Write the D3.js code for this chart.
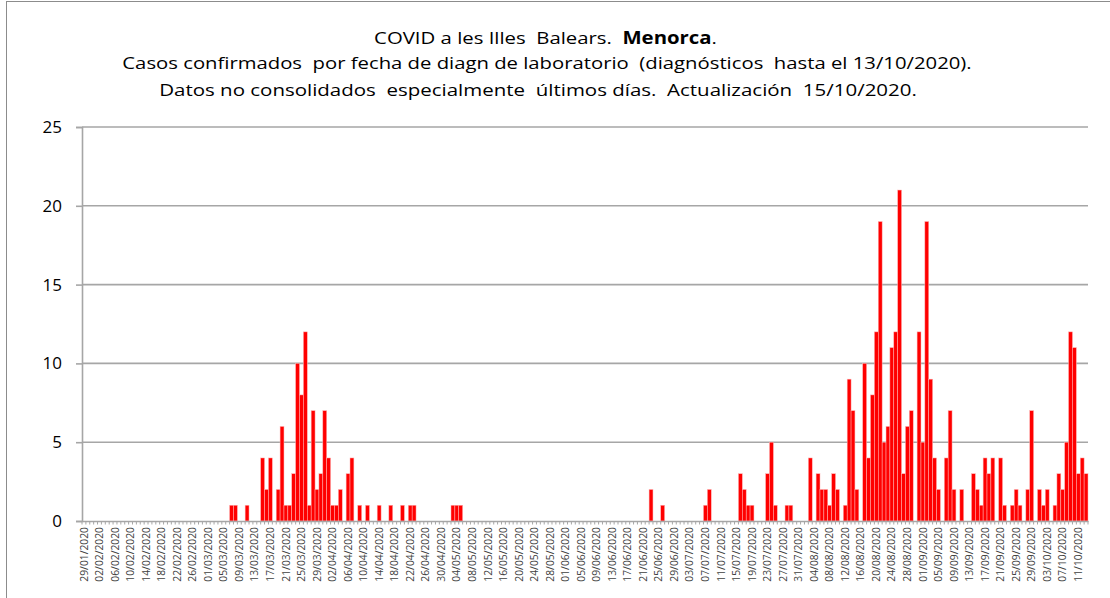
<!DOCTYPE html>
<html>
<head>
<meta charset="utf-8">
<script src="https://cdn.jsdelivr.net/npm/d3@7"></script>
<style>
  body { margin: 0; background: #fff; }
  svg { display: block; font-family: "Open Sans", sans-serif; }
</style>
</head>
<body>
<div id="chart"></div>
<script>
/* Chart data */
var firstDay = new Date(2020, 0, 29);
var lastDay = new Date(2020, 9, 13);

// confirmed cases per day, 29/01/2020 .. 13/10/2020
var cases = [
  0,0,0,0,0,0,0,0,0,0,
  0,0,0,0,0,0,0,0,0,0,
  0,0,0,0,0,0,0,0,0,0,
  0,0,0,0,0,0,0,0,1,1,
  0,0,1,0,0,0,4,2,4,0,
  2,6,1,1,3,10,8,12,1,7,
  2,3,7,4,1,1,2,0,3,4,
  0,1,0,1,0,0,1,0,0,1,
  0,0,1,0,1,1,0,0,0,0,
  0,0,0,0,0,1,1,1,0,0,
  0,0,0,0,0,0,0,0,0,0,
  0,0,0,0,0,0,0,0,0,0,
  0,0,0,0,0,0,0,0,0,0,
  0,0,0,0,0,0,0,0,0,0,
  0,0,0,0,0,0,2,0,0,1,
  0,0,0,0,0,0,0,0,0,0,
  1,2,0,0,0,0,0,0,0,3,
  2,1,1,0,0,0,3,5,1,0,
  0,1,1,0,0,0,0,4,0,3,
  2,2,1,3,2,0,1,9,7,2,
  0,10,4,8,12,19,5,6,11,12,
  21,3,6,7,0,12,5,19,9,4,
  2,0,4,7,2,0,2,0,0,3,
  2,1,4,3,4,0,4,1,0,1,
  2,1,0,2,7,0,2,1,2,0,
  1,3,2,5,12,11,3,4,3
];

var yTicks = [0, 5, 10, 15, 20, 25];
var labelEvery = 4;

var titleLines = [
  [{t: "COVID a les Illes  Balears.  ", b: false}, {t: "Menorca", b: true}, {t: ".", b: false}],
  [{t: "Casos confirmados  por fecha de diagn de laboratorio  (diagnósticos  hasta el 13/10/2020).", b: false}],
  [{t: "Datos no consolidados  especialmente  últimos días.  Actualización  15/10/2020.", b: false}]
];

/* Layout */
var W = 1110, H = 598;
var M = {left: 82, right: 1088, top: 127, bottom: 521};
var titlePos = [ {cx: 545.5, y: 44, w: 343}, {cx: 547, y: 69, w: 850}, {cx: 538, y: 96, w: 758} ];

var days = d3.timeDay.range(firstDay, d3.timeDay.offset(lastDay, 1));
var fmt = d3.timeFormat("%d/%m/%Y");

var svg = d3.select("#chart").append("svg")
  .attr("width", W).attr("height", H);

// outer frame (only top and left edges are visible)
svg.append("line").attr("x1", 6.5).attr("x2", 6.5).attr("y1", 1).attr("y2", H)
  .attr("stroke", "#8c8c8c").attr("stroke-width", 1);
svg.append("line").attr("x1", 6.5).attr("x2", W).attr("y1", 1.5).attr("y2", 1.5)
  .attr("stroke", "#8c8c8c").attr("stroke-width", 1);

var x = d3.scaleBand().domain(days).range([M.left, M.right]).paddingInner(0).paddingOuter(0);
var y = d3.scaleLinear().domain([0, 25]).range([M.bottom, M.top]);

// gridlines
svg.append("g").selectAll("line").data(yTicks.filter(function(d) { return d > 0; }))
  .join("line")
  .attr("x1", M.left).attr("x2", M.right)
  .attr("y1", function(d) { return y(d); }).attr("y2", function(d) { return y(d); })
  .attr("stroke", "#a6a6a6").attr("stroke-width", 1.6);

// bars
svg.append("g").selectAll("rect").data(cases)
  .join("rect")
  .attr("x", function(d, i) { return x(days[i]); })
  .attr("width", x.bandwidth())
  .attr("y", function(d) { return y(d); })
  .attr("height", function(d) { return y(0) - y(d); })
  .attr("fill", "#ff0000")
  .attr("stroke", "#ffb4b4")
  .attr("stroke-width", function(d) { return d > 0 ? 0.5 : 0; });

// y axis
var yAxis = d3.axisLeft(y).tickValues(yTicks).tickSize(6).tickPadding(14);
var gy = svg.append("g").attr("transform", "translate(" + M.left + ",0)").call(yAxis);
gy.select(".domain").attr("stroke", "#a6a6a6").attr("stroke-width", 1.6);
gy.selectAll(".tick line").attr("stroke", "#a6a6a6").attr("stroke-width", 1.6);
gy.selectAll(".tick text").attr("font-size", 17).attr("fill", "#000")
  .attr("font-family", "'Open Sans', sans-serif");

// x axis: one small tick per day, label every 4 days
var xAxis = d3.axisBottom(x).tickSize(0).tickFormat(function(d, i) {
  return (d3.timeDay.count(firstDay, d) % labelEvery === 0) ? fmt(d) : "";
});
var gx = svg.append("g").attr("transform", "translate(0," + M.bottom + ")").call(xAxis);
gx.select(".domain").attr("stroke", "#a6a6a6").attr("stroke-width", 1.6);
gx.selectAll(".tick text")
  .attr("font-size", 10.3).attr("fill", "#404040")
  .attr("font-family", "'Open Sans', sans-serif")
  .attr("text-anchor", "end")
  .attr("transform", "rotate(-90)")
  .attr("x", -6).attr("y", 0).attr("dy", "0.35em");

var minor = d3.range(days.length + 1).map(function(i) { return M.left + i * x.step(); });
svg.append("g").selectAll("line").data(minor)
  .join("line")
  .attr("x1", function(d) { return d; }).attr("x2", function(d) { return d; })
  .attr("y1", M.bottom).attr("y2", M.bottom + 3.5)
  .attr("stroke", "#a6a6a6").attr("stroke-width", 1);

// title, squeezed to the original widths
titleLines.forEach(function(parts, i) {
  var p = titlePos[i];
  var t = svg.append("text")
    .attr("text-anchor", "middle")
    .attr("font-size", 17)
    .attr("fill", "#000")
    .style("white-space", "pre");
  parts.forEach(function(s) {
    t.append("tspan").text(s.t).attr("font-weight", s.b ? "bold" : "normal");
  });
  var w = t.node().getComputedTextLength();
  t.attr("transform", "translate(" + p.cx + "," + p.y + ") scale(" + (p.w / w) + ",1)");
});
</script>
</body>
</html>
